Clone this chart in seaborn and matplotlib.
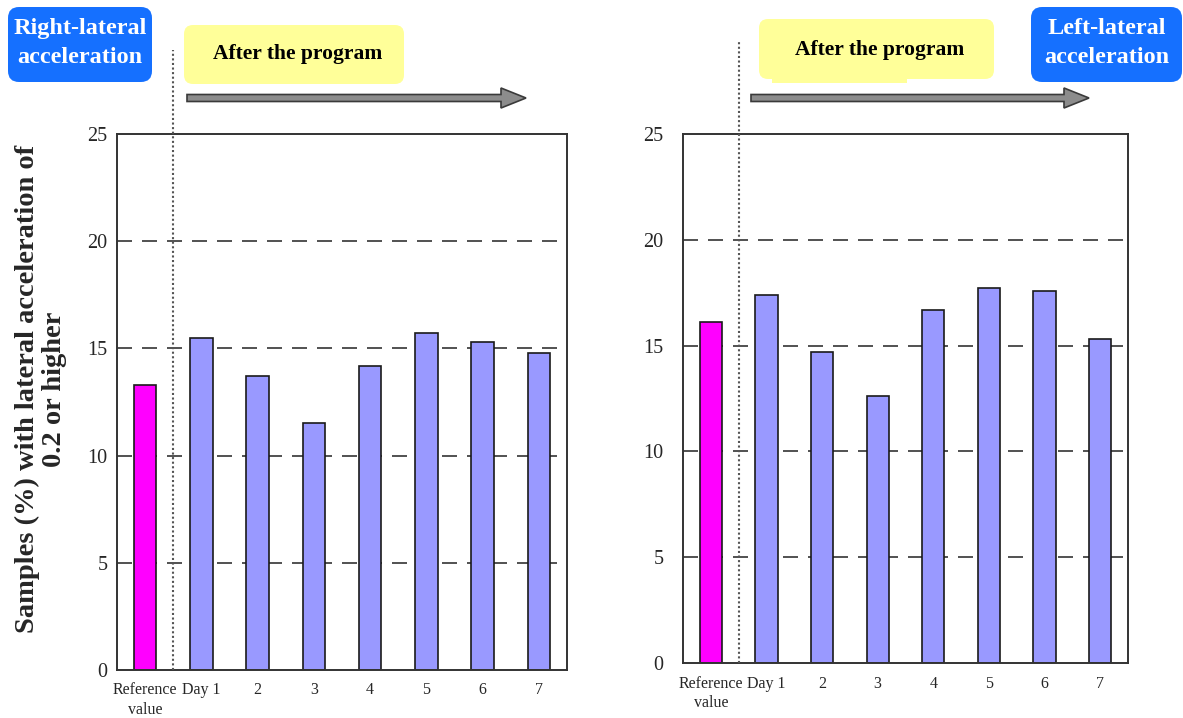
import matplotlib
matplotlib.use("Agg")
import matplotlib.pyplot as plt
import seaborn as sns
from matplotlib.patches import FancyBboxPatch, FancyArrow, Rectangle
from matplotlib.transforms import IdentityTransform

# ---------------- data ----------------
categories = ["Reference\nvalue", "Day 1", "2", "3", "4", "5", "6", "7"]
right_lateral = [13.3, 15.5, 13.7, 11.5, 14.2, 15.7, 15.3, 14.8]
left_lateral = [16.1, 17.4, 14.7, 12.6, 16.7, 17.7, 17.6, 15.3]
bar_colors = ["#FF00FF", "#9999FF", "#9999FF", "#9999FF", "#9999FF", "#9999FF", "#9999FF", "#9999FF"]
y_ticks = [0, 5, 10, 15, 20, 25]
grid_values = [5, 10, 15, 20]
ylabel_text = "Samples (%) with lateral acceleration of\n0.2 or higher"
left_tag = "Right-lateral\nacceleration"
right_tag = "Left-lateral\nacceleration"
program_text = "After the program"

sns.set_style("white")
plt.rcParams["font.family"] = ["Liberation Serif", "DejaVu Serif"]

W, H = 1183, 718
fig = plt.figure(figsize=(W / 100, H / 100), dpi=100)


def px_axes(x0, y0, x1, y1):
    return fig.add_axes([x0 / W, 1 - y1 / H, (x1 - x0) / W, (y1 - y0) / H])


def draw_panel(ax, values, ytick_pad, dotted_top_px, ax_top_px, ax_bot_px):
    for g in grid_values:
        ax.axhline(g, color="#333333", lw=1.2, ls=(0, (9, 6)), zorder=0)
    sns.barplot(x=list(range(len(categories))), y=values, hue=list(range(len(categories))),
                palette=bar_colors, legend=False, width=0.4, saturation=1,
                edgecolor="#1a1a1a", linewidth=1.2, ax=ax, zorder=2)
    ax.set_xlim(-0.5, len(categories) - 0.5)
    ax.set_ylim(0, 25)
    ax.set_yticks(y_ticks)
    ax.set_yticklabels([str(v) for v in y_ticks], fontsize=14.5)
    ax.set_xticks(range(len(categories)))
    ax.set_xticklabels(categories, fontsize=11.5, linespacing=1.3)
    ax.tick_params(axis="y", length=0, pad=ytick_pad)
    ax.tick_params(axis="x", which="major", length=0, pad=9)
    ax.set_xticks([i + 0.5 for i in range(1, len(categories) - 1)], minor=True)
    ax.tick_params(axis="x", which="minor", direction="in", length=5, width=1.2, color="#333333")
    for s in ax.spines.values():
        s.set_visible(True)
        s.set_color("#333333")
        s.set_linewidth(1.4)
    ax.set_xlabel("")
    ax.set_ylabel("")
    # dotted divider extending above the axes
    ymax = (ax_bot_px - dotted_top_px) / (ax_bot_px - ax_top_px)
    ax.axvline(0.5, ymin=0, ymax=ymax, clip_on=False, color="#555555",
               lw=1.5, ls=(0, (1, 1.2)), zorder=3)


axL = px_axes(117, 134, 567, 670)
draw_panel(axL, right_lateral, 7, 50, 134, 670)
axR = px_axes(683, 134, 1128, 663)
draw_panel(axR, left_lateral, 14, 40, 134, 663)

ident = IdentityTransform()


def box(x0, y0, x1, y1, color, rad):
    p = FancyBboxPatch((x0 + rad, H - y1 + rad), (x1 - x0) - 2 * rad, (y1 - y0) - 2 * rad,
                       boxstyle=f"round,pad={rad},rounding_size={rad}",
                       facecolor=color, edgecolor="none", transform=ident)
    fig.add_artist(p)


def arrow(x0, x1, y):
    a = FancyArrow(x0, H - y, x1 - x0, 0, width=7, head_width=20, head_length=25,
                   length_includes_head=True, facecolor="#8c8c8c", edgecolor="#3a3a3a",
                   lw=1.2, transform=ident)
    fig.add_artist(a)


# left panel annotations
box(8, 7, 152, 82, "#1570FF", 11)
fig.text(80 / W, 1 - 43 / H, left_tag, color="white", fontsize=17.5, fontweight="bold",
         ha="center", va="center", linespacing=1.55)
box(184, 25, 404, 84, "#FFFF99", 9)
fig.text(298 / W, 1 - 54 / H, program_text, color="black", fontsize=15.5, fontweight="bold",
         ha="center", va="center")
arrow(187, 526, 98)

# right panel annotations
box(759, 19, 994, 79, "#FFFF99", 9)
fig.add_artist(Rectangle((772, H - 83), 135, 8, facecolor="#FFFF99", edgecolor="none", transform=ident))
fig.text(880 / W, 1 - 50 / H, program_text, color="black", fontsize=15.5, fontweight="bold",
         ha="center", va="center")
box(1031, 7, 1182, 82, "#1570FF", 11)
fig.text(1107 / W, 1 - 43 / H, right_tag, color="white", fontsize=17.5, fontweight="bold",
         ha="center", va="center", linespacing=1.55)
arrow(751, 1089, 98)

# y label
fig.text(41 / W, 1 - 389 / H, ylabel_text, rotation=90, fontsize=20.5, fontweight="bold",
         ha="center", va="center", linespacing=1.12)

fig.savefig("out.png", dpi=100)
